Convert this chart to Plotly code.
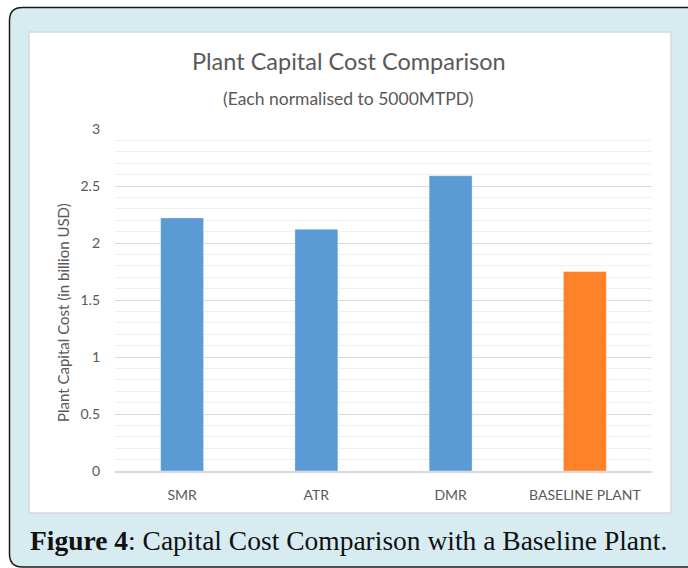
import plotly.graph_objects as go

# Capital cost per process route, each normalised to 5000 MTPD
categories = ["SMR", "ATR", "DMR", "BASELINE PLANT"]
capital_cost = [2.22, 2.12, 2.59, 1.75]
bar_colors = ["#5b9bd5", "#5b9bd5", "#5b9bd5", "#fd8228"]
y_ticks = [0, 0.5, 1, 1.5, 2, 2.5, 3]
y_tick_labels = ["0", "0.5", "1", "1.5", "2", "2.5", "3"]

W, H = 688, 568
L, R, T, B = 115, 36, 129, 97

fig = go.Figure(
    go.Bar(
        x=categories,
        y=capital_cost,
        marker=dict(color=bar_colors, line=dict(color="rgba(255,255,255,0.35)", width=1)),
        hoverinfo="x+y",
    )
)

text_gray = "#595959"
sans = "Lato, 'Open Sans', sans-serif"


def px(x, y):
    """Convert pixel coordinates (from top-left) into paper coordinates."""
    pw = W - L - R
    ph = H - T - B
    return (x - L) / pw, (H - B - y) / ph


def rounded_rect(x0, y0, x1, y1, r):
    ax0, ay0 = px(x0, y0)
    ax1, ay1 = px(x1, y1)
    rx = r / (W - L - R)
    ry = r / (H - T - B)
    return (
        f"M {ax0 + rx} {ay0} L {ax1 - rx} {ay0} Q {ax1} {ay0} {ax1} {ay0 - ry} "
        f"L {ax1} {ay1 + ry} Q {ax1} {ay1} {ax1 - rx} {ay1} "
        f"L {ax0 + rx} {ay1} Q {ax0} {ay1} {ax0} {ay1 + ry} "
        f"L {ax0} {ay0 - ry} Q {ax0} {ay0} {ax0 + rx} {ay0} Z"
    )


shapes = []
# outer framed panel
shapes.append(dict(
    type="path", xref="paper", yref="paper", layer="below",
    path=rounded_rect(9.5, 7.5, 700, 567, 13),
    fillcolor="#d7ecf1", line=dict(color="#1a1a1a", width=1.5),
))
# white chart card
wx0, wy0 = px(29, 32)
wx1, wy1 = px(671, 513)
shapes.append(dict(
    type="rect", xref="paper", yref="paper", layer="below",
    x0=wx0, y0=wy1, x1=wx1, y1=wy0,
    fillcolor="#ffffff", line=dict(color="#d9d9d9", width=1.5),
))

annotations = []
tx, ty = px(349, 61)
annotations.append(dict(
    xref="paper", yref="paper", x=tx, y=ty, xanchor="center", yanchor="middle",
    text="Plant Capital Cost Comparison", showarrow=False,
    font=dict(family=sans, size=23.5, color=text_gray),
))
sx, sy = px(348, 98)
annotations.append(dict(
    xref="paper", yref="paper", x=sx, y=sy, xanchor="center", yanchor="middle",
    text="(Each normalised to 5000MTPD)", showarrow=False,
    font=dict(family=sans, size=17.5, color=text_gray),
))
cx, cy = px(348, 540)
annotations.append(dict(
    xref="paper", yref="paper", x=cx, y=cy, xanchor="center", yanchor="middle",
    text="<b>Figure 4</b>: Capital Cost Comparison with a Baseline Plant.",
    showarrow=False,
    font=dict(family="'Liberation Serif', 'DejaVu Serif', serif", size=27.5, color="#111111"),
))
ax_, ay_ = px(63, 313)
annotations.append(dict(
    xref="paper", yref="paper", x=ax_, y=ay_, xanchor="center", yanchor="middle",
    text="Plant Capital Cost (in billion USD)", showarrow=False, textangle=-90,
    font=dict(family=sans, size=15, color=text_gray),
))

fig.update_layout(
    width=W, height=H,
    margin=dict(l=L, r=R, t=T, b=B, pad=0),
    paper_bgcolor="#ffffff",
    plot_bgcolor="rgba(0,0,0,0)",
    bargap=0.68,
    showlegend=False,
    shapes=shapes,
    annotations=annotations,
    font=dict(family=sans, color=text_gray),
)
fig.update_yaxes(
    range=[0, 3],
    tickvals=y_ticks, ticktext=y_tick_labels,
    tickfont=dict(family=sans, size=14, color=text_gray),
    showgrid=True, gridcolor="#d9d9d9", gridwidth=1,
    minor=dict(dtick=0.1, showgrid=True, gridcolor="#f0f0f0", gridwidth=1),
    zeroline=False, showline=False, ticks="", ticklabelstandoff=14,
)
fig.update_xaxes(
    tickfont=dict(family=sans, size=14, color=text_gray),
    showline=True, linecolor="#d9d9d9", linewidth=1.5,
    ticks="", ticklabelstandoff=10, showgrid=False,
)

fig.write_html("out.html")
